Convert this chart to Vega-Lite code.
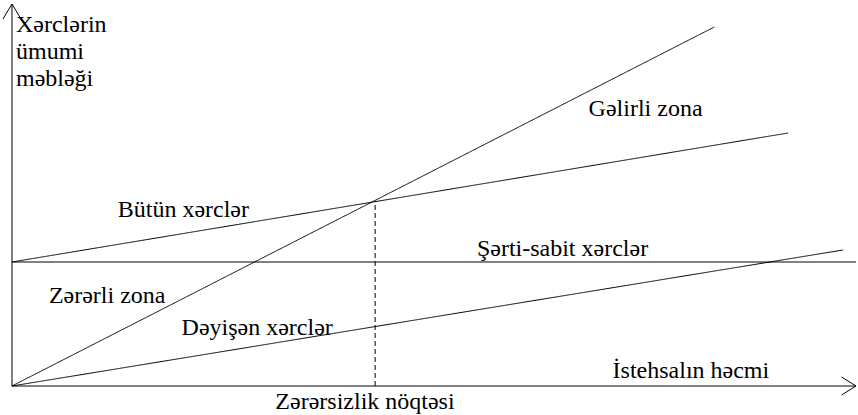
{
  "$schema": "https://vega.github.io/schema/vega-lite/v6.json",
  "width": 858,
  "height": 415,
  "padding": 0,
  "autosize": {"type": "fit", "contains": "padding"},
  "config": {"view": {"stroke": null}},
  "datasets": {
    "lines": [
      {"series": "axis-x", "x": 0, "y": 0},
      {"series": "axis-x", "x": 846, "y": 0},
      {"series": "axis-y", "x": 0, "y": 0},
      {"series": "axis-y", "x": 0, "y": 382},
      {"series": "Gəlir", "x": 0, "y": 0},
      {"series": "Gəlir", "x": 704, "y": 359},
      {"series": "Bütün xərclər", "x": 0, "y": 124},
      {"series": "Bütün xərclər", "x": 778, "y": 253},
      {"series": "Şərti-sabit xərclər", "x": 0, "y": 124},
      {"series": "Şərti-sabit xərclər", "x": 846, "y": 124},
      {"series": "Dəyişən xərclər", "x": 0, "y": 0},
      {"series": "Dəyişən xərclər", "x": 833, "y": 136},
      {"series": "Zərərsizlik", "x": 364, "y": 0},
      {"series": "Zərərsizlik", "x": 364, "y": 185}
    ],
    "arrows": [
      {"axis": "x", "x": 846, "y": 0},
      {"axis": "y", "x": 0, "y": 382}
    ],
    "labels": [
      {"text": "Xərclərin", "x": 4, "y": 354},
      {"text": "ümumi", "x": 4, "y": 327},
      {"text": "məbləği", "x": 4, "y": 300},
      {"text": "Gəlirli zona", "x": 578, "y": 270},
      {"text": "Bütün xərclər", "x": 106, "y": 169},
      {"text": "Şərti-sabit xərclər", "x": 466, "y": 130},
      {"text": "Zərərli zona", "x": 37, "y": 83},
      {"text": "Dəyişən xərclər", "x": 170, "y": 51},
      {"text": "İstehsalın həcmi", "x": 602, "y": 8},
      {"text": "Zərərsizlik nöqtəsi", "x": 264, "y": -23}
    ]
  },
  "layer": [
    {
      "data": {"name": "lines"},
      "mark": {"type": "line", "color": "#000", "strokeWidth": 1},
      "encoding": {
        "x": {"field": "x", "type": "quantitative", "scale": {"domain": [-12, 846], "nice": false, "zero": false}, "axis": null},
        "y": {"field": "y", "type": "quantitative", "scale": {"domain": [-29, 386], "nice": false, "zero": false}, "axis": null},
        "detail": {"field": "series"},
        "strokeDash": {
          "field": "series",
          "type": "nominal",
          "legend": null,
          "scale": {
            "domain": ["axis-x", "axis-y", "Gəlir", "Bütün xərclər", "Şərti-sabit xərclər", "Dəyişən xərclər", "Zərərsizlik"],
            "range": [[1, 0], [1, 0], [1, 0], [1, 0], [1, 0], [1, 0], [5, 3]]
          }
        }
      }
    },
    {
      "data": {"name": "arrows"},
      "mark": {"type": "point", "filled": false, "stroke": "#000", "strokeWidth": 1, "opacity": 1},
      "encoding": {
        "x": {"field": "x", "type": "quantitative"},
        "y": {"field": "y", "type": "quantitative"},
        "shape": {
          "field": "axis",
          "type": "nominal",
          "legend": null,
          "scale": {"domain": ["x", "y"], "range": ["M-1.6,-1 L0,0 L-1.6,1", "M-1,1.67 L0,0 L1,1.67"]}
        },
        "size": {"value": 324}
      }
    },
    {
      "data": {"name": "labels"},
      "mark": {"type": "text", "align": "left", "baseline": "alphabetic", "font": "Liberation Serif", "fontSize": 24, "color": "#000"},
      "encoding": {
        "x": {"field": "x", "type": "quantitative"},
        "y": {"field": "y", "type": "quantitative"},
        "text": {"field": "text"}
      }
    }
  ]
}
